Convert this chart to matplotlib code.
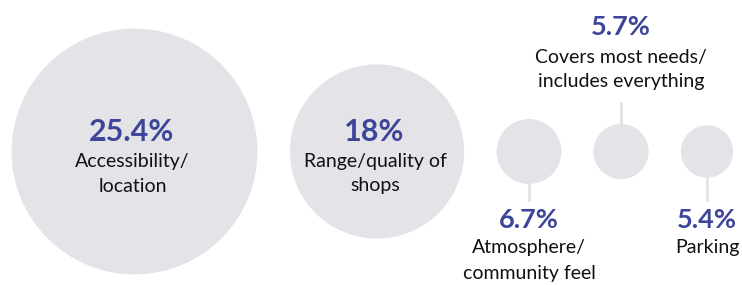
import matplotlib.pyplot as plt
from matplotlib.patches import Circle

plt.rcParams['font.family'] = ['Lato', 'DejaVu Sans']

# data
labels = [['Accessibility/', 'location'], ['Range/quality of', 'shops'],
          ['Atmosphere/', 'community feel'], ['Covers most needs/', 'includes everything'],
          ['Parking']]
values = [25.4, 18, 6.7, 5.7, 5.4]
value_text = ['25.4%', '18%', '6.7%', '5.7%', '5.4%']

# layout (pixel space)
centers_x = [134.5, 377, 529, 621, 707]
center_y = 151.5
scale = 4.84           # radius in px per percentage point
where = ['in', 'in', 'below', 'above', 'below']

GREY = '#e3e3e8'
BLUE = '#3d4599'
INK = '#111111'

fig = plt.figure(figsize=(7.42, 2.85), dpi=100)
ax = fig.add_axes([0, 0, 1, 1])
ax.set_xlim(0, 742)
ax.set_ylim(285, 0)
ax.set_aspect('equal')
ax.axis('off')


def put_lines(x, y0, lines, step):
    for i, s in enumerate(lines):
        ax.text(x, y0 + i * step, s, ha='center', va='center', color=INK, fontsize=14)


for x, v, lab, vt, w in zip(centers_x, values, labels, value_text, where):
    r = v * scale
    ax.add_patch(Circle((x, center_y), r, facecolor=GREY, edgecolor='none', zorder=1))
    if w == 'in':
        ax.text(x - 3, 132, vt, ha='center', va='center', color=BLUE,
                fontsize=22, fontweight='bold')
        put_lines(x - 2, 162, lab, 24)
    elif w == 'below':
        ax.plot([x, x], [center_y + r, 200], color=GREY, lw=2, zorder=0)
        ax.text(x, 220, vt, ha='center', va='center', color=BLUE,
                fontsize=19.5, fontweight='bold')
        put_lines(x, 248, lab, 26)
    else:
        ax.plot([x, x], [103, center_y - r], color=GREY, lw=2, zorder=0)
        ax.text(x, 27, vt, ha='center', va='center', color=BLUE,
                fontsize=19.5, fontweight='bold')
        put_lines(x, 57, lab, 25)

fig.savefig('out.png', dpi=100)
